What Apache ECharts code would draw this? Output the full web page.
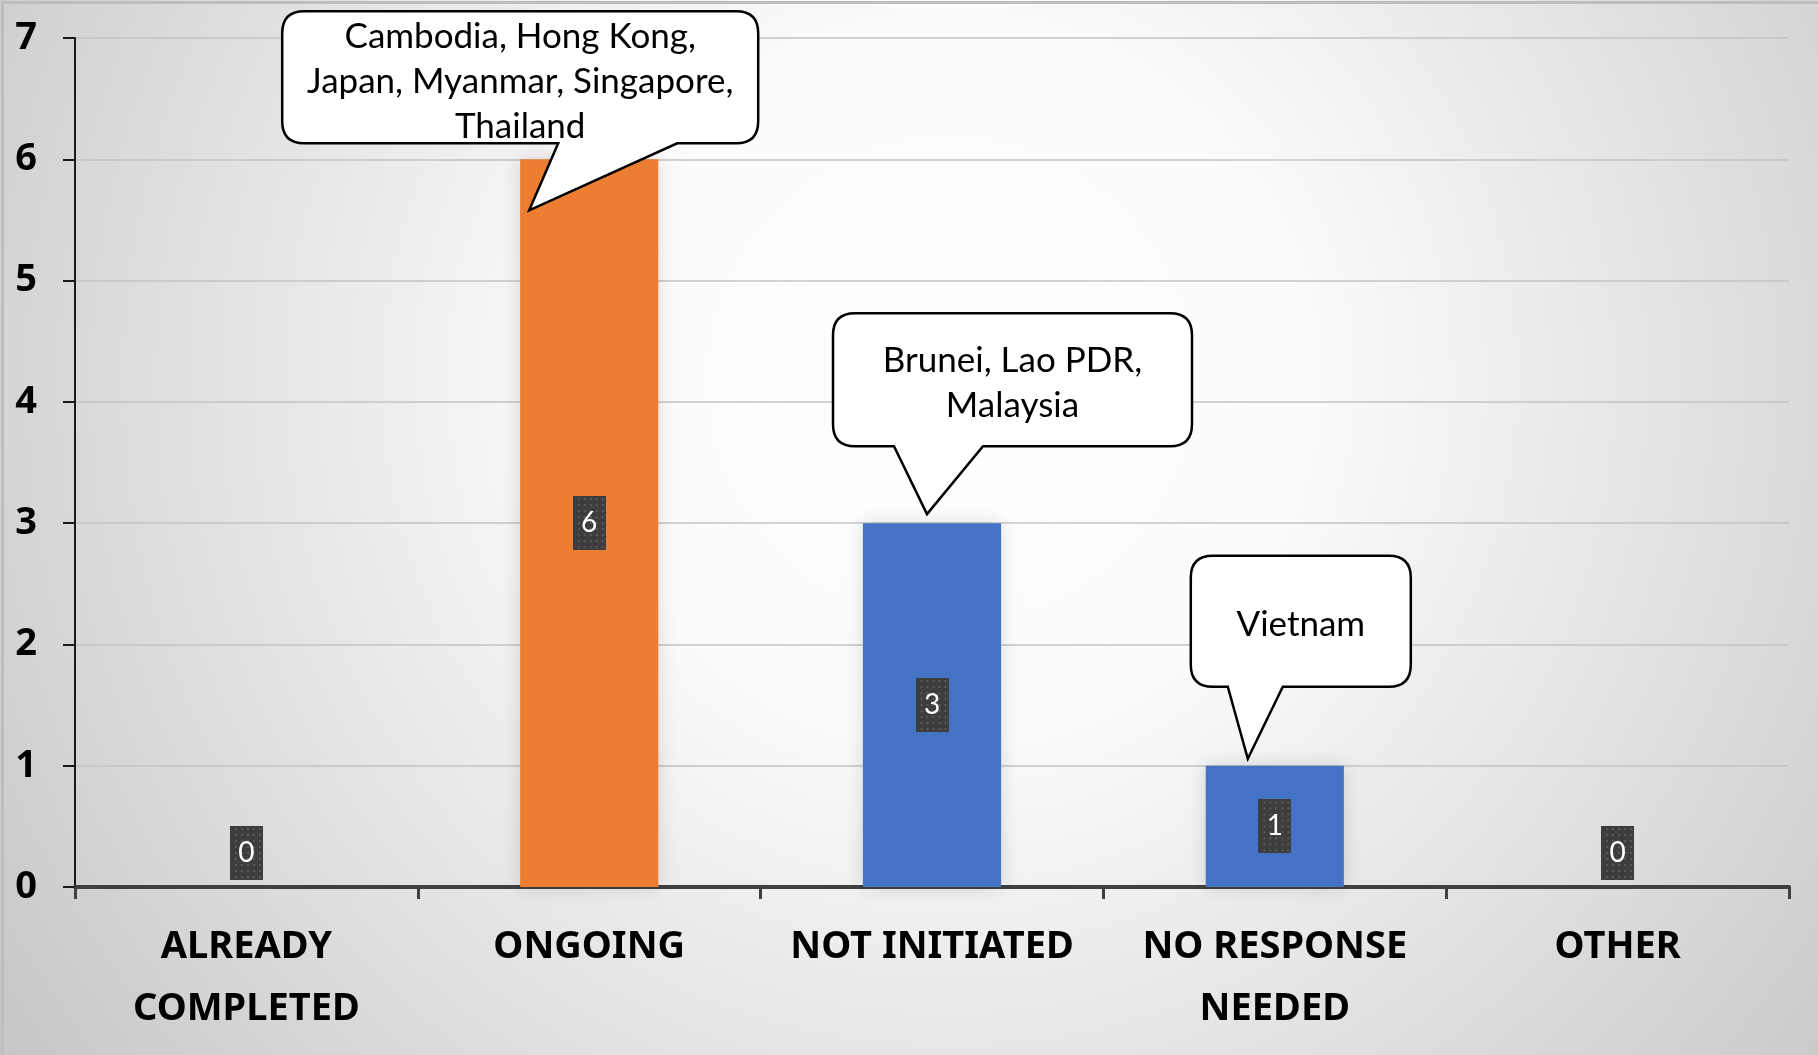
<!DOCTYPE html>
<html>
<head>
<meta charset="utf-8">
<script src="https://cdn.jsdelivr.net/npm/echarts@6/dist/echarts.min.js"></script>
<style>
html,body{margin:0;padding:0;}
#chart{width:1818px;height:1055px;}
</style>
</head>
<body>
<div id="chart"></div>
<script>
// ---- data ----
const categories = ['ALREADY\nCOMPLETED', 'ONGOING', 'NOT INITIATED', 'NO RESPONSE\nNEEDED', 'OTHER'];
const values = [0, 6, 3, 1, 0];
const calloutTexts = ['', 'Cambodia, Hong Kong,\nJapan, Myanmar, Singapore,\nThailand', 'Brunei, Lao PDR,\nMalaysia', 'Vietnam', ''];
const yTicks = [0, 1, 2, 3, 4, 5, 6, 7];

// ---- styles / layout ----
const barColors = ['#4472C4', '#ED7D31', '#4472C4', '#4472C4', '#4472C4'];
// callout geometry relative to the bar's top-centre (px)
const calloutLayout = [
  null,
  { tip: [-60, 51], box: [-307, -148, 169, -16], base: [-31, 88] },
  { tip: [-5, -9], box: [-99, -210, 260, -77], base: [-38, 51] },
  { tip: [-27, -7], box: [-84, -210, 136, -79], base: [-47, 8] },
  null
];

// dotted dark texture for value labels
function makeDots(w, h) {
  const c = document.createElement('canvas');
  c.width = w; c.height = h;
  const g = c.getContext('2d');
  g.fillStyle = '#3d3d3d';
  g.fillRect(0, 0, w, h);
  g.fillStyle = '#5a5a5a';
  for (let y = 2; y < h; y += 6) {
    for (let x = 2; x < w; x += 6) {
      g.fillRect(x + ((y / 6) % 2 ? 3 : 0), y, 2, 2);
    }
  }
  return c;
}
const dots = makeDots(33, 54);

const chart = echarts.init(document.getElementById('chart'));

const barData = values.map((v, i) => {
  const item = { value: v, itemStyle: { color: barColors[i] } };
  if (v === 0) item.label = { position: 'top', distance: 7 };
  return item;
});

function bubblePath(L, T, R, B, r, bl, br, tx, ty) {
  return 'M' + (L + r) + ',' + T +
    ' L' + (R - r) + ',' + T +
    ' Q' + R + ',' + T + ' ' + R + ',' + (T + r) +
    ' L' + R + ',' + (B - r) +
    ' Q' + R + ',' + B + ' ' + (R - r) + ',' + B +
    ' L' + br + ',' + B +
    ' L' + tx + ',' + ty +
    ' L' + bl + ',' + B +
    ' L' + (L + r) + ',' + B +
    ' Q' + L + ',' + B + ' ' + L + ',' + (B - r) +
    ' L' + L + ',' + (T + r) +
    ' Q' + L + ',' + T + ' ' + (L + r) + ',' + T + ' Z';
}

const option = {
  animation: false,
  backgroundColor: {
    type: 'radial', x: 950, y: 380, r: 1200, global: true,
    colorStops: [
      { offset: 0, color: '#ffffff' },
      { offset: 0.3, color: '#fbfbfb' },
      { offset: 1, color: '#c4c4c4' }
    ]
  },
  graphic: [{
    type: 'rect', left: 0, top: 0, silent: true,
    shape: { width: 1818, height: 1055 },
    style: { fill: 'none', stroke: '#bdbdbd', lineWidth: 3 }
  }],
  grid: { left: 75, right: 29, top: 38, bottom: 168, containLabel: false },
  xAxis: {
    type: 'category',
    data: categories,
    boundaryGap: true,
    axisLine: { show: true, lineStyle: { color: '#404040', width: 4 } },
    axisTick: { show: true, length: 12, lineStyle: { color: '#404040', width: 3 } },
    axisLabel: {
      interval: 0, margin: 29, color: '#000', fontSize: 38, fontWeight: 'bold',
      fontFamily: 'Noto Sans', lineHeight: 62
    },
    splitLine: { show: false }
  },
  yAxis: {
    type: 'value',
    min: yTicks[0], max: yTicks[yTicks.length - 1], interval: 1,
    axisLine: { show: true, lineStyle: { color: '#1a1a1a', width: 2 } },
    axisTick: { show: true, length: 12, lineStyle: { color: '#1a1a1a', width: 2 } },
    axisLabel: { margin: 38, color: '#000', fontSize: 38, fontWeight: 'bold', fontFamily: 'Noto Sans' },
    splitLine: { show: true, lineStyle: { color: '#c3c3c3', width: 1.5 } }
  },
  series: [{
    type: 'bar',
    data: barData,
    barWidth: '40.3%',
    itemStyle: { shadowBlur: 18, shadowColor: 'rgba(0,0,0,0.14)' },
    label: {
      show: true, position: 'inside',
      color: '#ffffff', fontSize: 28, fontFamily: 'Lato', lineHeight: 28,
      width: 17, align: 'center', padding: [13, 8],
      backgroundColor: { image: dots },
      shadowBlur: 6, shadowOffsetX: 3, shadowOffsetY: 3, shadowColor: 'rgba(0,0,0,0.5)'
    },
    z: 2
  }, {
    type: 'custom',
    z: 5,
    data: values.map((v, i) => [i, v]),
    renderItem: function (params, api) {
      const i = params.dataIndex;
      const lay = calloutLayout[i];
      const text = calloutTexts[i];
      if (!lay || !text) return null;
      const p = api.coord([api.value(0), api.value(1)]);
      const cx = p[0], ty = p[1];
      const L = cx + lay.box[0], T = ty + lay.box[1], R = cx + lay.box[2], B = ty + lay.box[3];
      const tx = cx + lay.tip[0], tyy = ty + lay.tip[1];
      const bl = cx + lay.base[0], br = cx + lay.base[1];
      return {
        type: 'group',
        children: [{
          type: 'path',
          shape: { pathData: bubblePath(L, T, R, B, 22, bl, br, tx, tyy) },
          style: { fill: '#ffffff', stroke: '#000000', lineWidth: 2.5, lineJoin: 'miter' }
        }, {
          type: 'text',
          style: {
            text: text, x: (L + R) / 2, y: (T + B) / 2 + 4,
            align: 'center', verticalAlign: 'middle',
            fontSize: 35, lineHeight: 45, fontFamily: 'Lato', fill: '#000'
          }
        }]
      };
    }
  }]
};
chart.setOption(option);
</script>
</body>
</html>
